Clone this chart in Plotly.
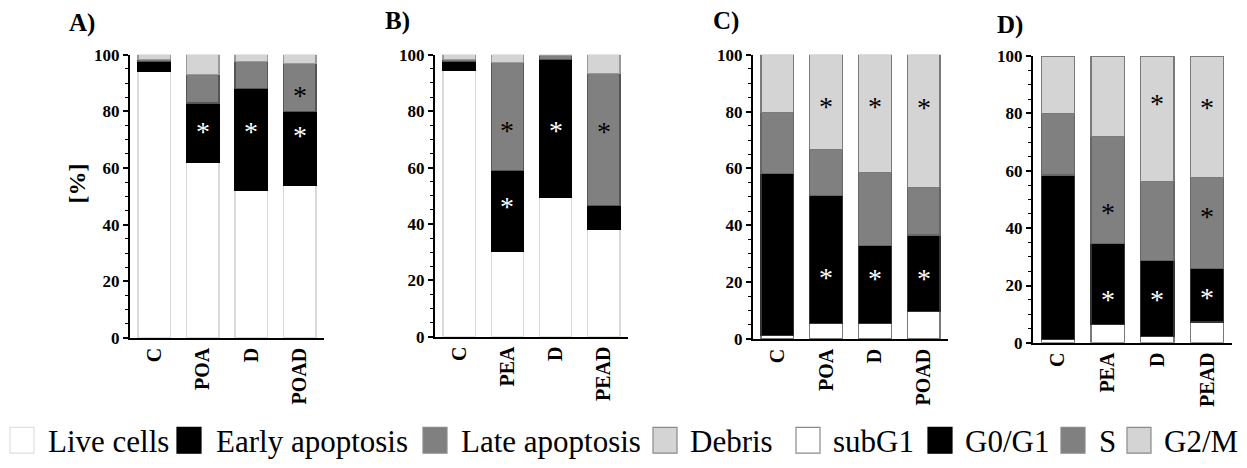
import plotly.graph_objects as go

W, H = 1247, 468

# ---------------- data ----------------
cats_A = ["C", "POA", "D", "POAD"]
live_A = [94.0, 62.0, 52.0, 54.0]
early_A = [3.5, 21.0, 36.0, 26.0]
late_A = [0.9, 10.0, 9.5, 17.0]
debris_A = [1.6, 7.0, 2.5, 3.0]

cats_B = ["C", "PEA", "D", "PEAD"]
live_B = [94.3, 30.2, 49.5, 38.0]
early_B = [3.2, 28.8, 48.9, 8.5]
late_B = [0.9, 38.2, 1.3, 46.8]
debris_B = [1.6, 2.8, 0.3, 6.7]

cats_C = ["C", "POA", "D", "POAD"]
subg1_C = [1.2, 5.6, 5.6, 9.6]
g0g1_C = [57.0, 45.0, 27.2, 27.0]
s_C = [21.6, 16.0, 25.7, 16.8]
g2m_C = [20.2, 33.4, 41.5, 46.6]

cats_D = ["C", "PEA", "D", "PEAD"]
subg1_D = [1.3, 6.3, 2.3, 7.3]
g0g1_D = [57.2, 28.4, 26.3, 18.6]
s_D = [21.5, 37.3, 27.6, 31.7]
g2m_D = [20.0, 27.9, 43.8, 42.4]

# significance asterisks: (category, y value, colour)
stars_A = [("POA", 75, "white"), ("D", 75, "white"), ("POAD", 73.5, "white"), ("POAD", 87.6, "black")]
stars_B = [("PEA", 75.4, "black"), ("PEA", 48.3, "white"), ("D", 75.2, "white"), ("PEAD", 74.9, "black")]
stars_C = [("POA", 84, "black"), ("POA", 23.8, "white"), ("D", 84, "black"), ("D", 23.3, "white"),
           ("POAD", 83.5, "black"), ("POAD", 23.3, "white")]
stars_D = [("PEA", 47.6, "black"), ("PEA", 17.3, "white"), ("D", 85.4, "black"), ("D", 17.3, "white"),
           ("PEAD", 84, "black"), ("PEAD", 46.2, "black"), ("PEAD", 17.8, "white")]

panel_titles = ["A)", "B)", "C)", "D)"]
legend_labels = ["Live cells", "Early apoptosis", "Late apoptosis", "Debris",
                 "subG1", "G0/G1", "S", "G2/M"]

# ---------------- style ----------------
WHITE, BLACK, GREY, LGREY = "#ffffff", "#000000", "#808080", "#d4d4d4"
SERIF = "'Liberation Serif', 'Times New Roman', Times, serif"

def px(x):
    return x / W

def py(y):
    return 1 - y / H

# panel geometry in pixels: x0, x1, y_bottom(0), y_top(100)
geom = [(130, 324, 343, 47.7), (435, 628, 341.7, 47.7), (753, 948, 344, 47.7), (1033, 1232, 348, 49)]

fig = go.Figure()

panels = [
    (cats_A, [(live_A, WHITE, "#d9d9d9", "Live cells"), (early_A, BLACK, "#000000", "Early apoptosis"),
              (late_A, GREY, "#555555", "Late apoptosis"), (debris_A, LGREY, "#999999", "Debris")], stars_A),
    (cats_B, [(live_B, WHITE, "#d9d9d9", "Live cells"), (early_B, BLACK, "#000000", "Early apoptosis"),
              (late_B, GREY, "#555555", "Late apoptosis"), (debris_B, LGREY, "#999999", "Debris")], stars_B),
    (cats_C, [(subg1_C, WHITE, "#7a7a7a", "subG1"), (g0g1_C, BLACK, "#333333", "G0/G1"),
              (s_C, GREY, "#666666", "S"), (g2m_C, LGREY, "#7a7a7a", "G2/M")], stars_C),
    (cats_D, [(subg1_D, WHITE, "#7a7a7a", "subG1"), (g0g1_D, BLACK, "#333333", "G0/G1"),
              (s_D, GREY, "#666666", "S"), (g2m_D, LGREY, "#7a7a7a", "G2/M")], stars_D),
]

annotations = []
for i, (cats, series, stars) in enumerate(panels):
    n = "" if i == 0 else str(i + 1)
    xa, ya = "x" + n, "y" + n
    for vals, fill, edge, name in series:
        fig.add_trace(go.Bar(
            x=cats, y=vals, name=name, xaxis=xa, yaxis=ya, width=0.67,
            marker=dict(color=fill, line=dict(color=edge, width=1.2)),
            showlegend=False,
        ))
    x0, x1, yb, yt = geom[i]
    fig.layout["xaxis" + n] = dict(
        domain=[px(x0), px(x1)], anchor=ya, type="category", range=[-0.5, 3.5],
        showline=True, linecolor="black", linewidth=1.5, ticks="",
        tickangle=-90, tickfont=dict(family=SERIF, size=20, color="black", weight="bold"),
        showgrid=False, zeroline=False, fixedrange=True,
    )
    fig.layout["yaxis" + n] = dict(
        domain=[py(yb), py(yt)], anchor=xa, range=[0, 100],
        tickvals=[0, 20, 40, 60, 80, 100],
        showline=True, linecolor="black", linewidth=2, ticks="outside", ticklen=5, tickwidth=1.5,
        tickcolor="black",
        minor=dict(dtick=5, ticks="outside", ticklen=3, tickwidth=1, tickcolor="black"),
        tickfont=dict(family=SERIF, size=17, color="black", weight="bold"),
        showgrid=False, zeroline=False, fixedrange=True,
    )
    for cat, yv, col in stars:
        annotations.append(dict(
            x=cat, y=yv, xref=xa, yref=ya, text="*", showarrow=False,
            font=dict(family=SERIF, size=28, color=col), yshift=-6,
        ))

# panel titles
title_pos = [(67, 15), (383, 12), (711, 13), (995, 17)]
for t, (tx, ty) in zip(panel_titles, title_pos):
    annotations.append(dict(
        x=px(tx), y=py(ty), xref="paper", yref="paper", text=t, showarrow=False,
        xanchor="left", yanchor="middle", font=dict(family=SERIF, size=25, color="black", weight="bold"),
    ))

# y-axis label
annotations.append(dict(
    x=px(77), y=py(182), xref="paper", yref="paper", text="[%]", showarrow=False,
    textangle=-90, xanchor="center", yanchor="middle",
    font=dict(family=SERIF, size=24, color="black", weight="bold"),
))

# legend (manual)
legend_fill = [WHITE, BLACK, GREY, LGREY, WHITE, BLACK, GREY, LGREY]
legend_sq = [10, 177, 423, 653, 796, 928, 1061, 1127]
legend_tx = [46, 214, 459, 688, 831, 963, 1097, 1162]
shapes = []
for lab, col, sx, tx in zip(legend_labels, legend_fill, legend_sq, legend_tx):
    edge = "#e0e0e0" if lab == "Live cells" else ("#000000" if col == BLACK else "#8a8a8a")
    shapes.append(dict(type="rect", xref="paper", yref="paper",
                       x0=px(sx), x1=px(sx + 24), y0=py(463), y1=py(436),
                       fillcolor=col, line=dict(color=edge, width=1.2)))
    annotations.append(dict(
        x=px(tx), y=py(451), xref="paper", yref="paper", text=lab, showarrow=False,
        xanchor="left", yanchor="middle", font=dict(family=SERIF, size=31, color="black"),
    ))

fig.update_layout(
    width=W, height=H, margin=dict(l=0, r=0, t=0, b=0),
    barmode="stack", bargap=0.33,
    paper_bgcolor="white", plot_bgcolor="white",
    annotations=annotations, shapes=shapes, showlegend=False,
)

fig.write_html("out.html")
